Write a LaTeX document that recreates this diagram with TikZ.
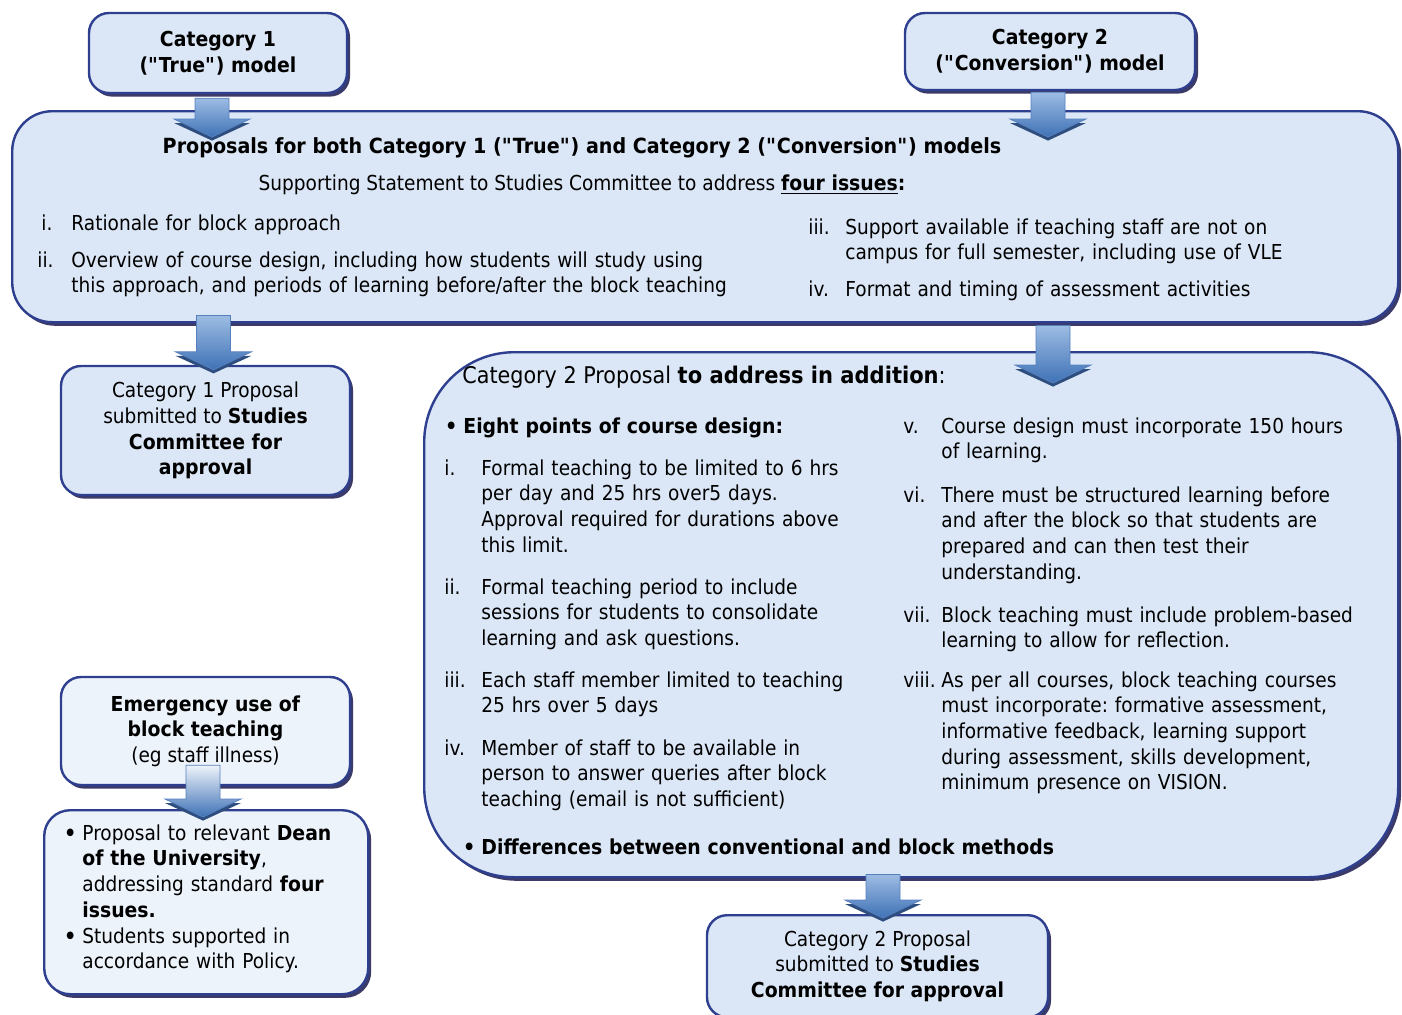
\documentclass[tikz,border=0pt]{standalone}
\usepackage{fontspec}
\setmainfont{DejaVu Sans}[FakeStretch=0.9,BoldFeatures={FakeStretch=0.915}]
\usetikzlibrary{positioning,calc,shadows}
\definecolor{navy}{HTML}{2E3F8F}
\definecolor{shd}{HTML}{3B3A68}
\definecolor{boxf}{HTML}{DBE7F6}
\definecolor{boxl}{HTML}{EDF3FB}
\definecolor{arrt}{HTML}{9DBCE3}
\definecolor{arrb}{HTML}{3F72B6}
\definecolor{arrl}{HTML}{EEF3FA}
\definecolor{arre}{HTML}{5580BE}
\definecolor{arrs}{HTML}{2F4E80}
\AtBeginDocument{\fontsize{10.3}{12.85}\selectfont\frenchspacing}
\newcommand{\qt}{\textquotedbl}
\newcommand{\bul}{{\fontsize{13}{13}\selectfont\raisebox{-1.4pt}{•}}}
\tikzset{
  box/.style={draw=navy,line width=1.2pt,fill=boxf,rounded corners=10pt,inner sep=0pt,align=center,
              drop shadow={shadow xshift=1.5pt,shadow yshift=-1.8pt,fill=shd,opacity=1}},
  lbox/.style={box,fill=boxl},
  bigbox/.style={box,anchor=north west},
  hd/.style={font=\bfseries},
  lbl/.style={inner sep=0pt,anchor=base west},
  itm/.style={lbl,align=left,text width=#1},
  itm/.default=220pt,
  arr/.style={top color=arrt,bottom color=arrb,draw=arre,line width=.4pt},
  larr/.style={arr,top color=arrl}
}
\newcommand{\blockarrow}[3][arr]{%
  \fill[arrs] let \p1=#2, \p2=#3 in
    (\x1-19pt,\y2+7pt) -- (\x1,\y2-1.8pt) -- (\x1+19pt,\y2+7pt) -- cycle;
  \shade[#1] let \p1=#2, \p2=#3 in
    (\x1-8.5pt,\y1) -- (\x1-8.5pt,\y2+9pt) -- (\x1-19pt,\y2+9pt) -- (\x1,\y2)
    -- (\x1+19pt,\y2+9pt) -- (\x1+8.5pt,\y2+9pt) -- (\x1+8.5pt,\y1) -- cycle;}

\begin{document}
\begin{tikzpicture}[x=0.5pt,y=-0.5pt]
\useasboundingbox (0,0) rectangle (1402,1014);
% model boxes
\node[box,hd,minimum width=129pt,minimum height=40pt] (m1) at (218,53) {Category 1\\(\qt True\qt) model};
\node[box,hd,minimum width=145pt,minimum height=38.5pt] (m2) at (1050,51.5) {Category 2\\(\qt Conversion\qt) model};

% proposals for both categories
\node[bigbox,rounded corners=20pt,minimum width=693pt,minimum height=105.5pt] (both) at (11,110) {};
\node[font=\fontsize{10.45}{12.85}\selectfont\bfseries,anchor=base] (bothttl) at (582,153) {Proposals for both Category 1 (\qt True\qt) and Category 2 (\qt Conversion\qt) models};
\node[anchor=base] (bothsub) at (582,190) {Supporting Statement to Studies Committee to address \underline{\textbf{four issues}}\textbf{:}};
\node[lbl] (l1) at (41,230) {i.};
\node[itm=340pt] (t1) at (71,230) {Rationale for block approach};
\node[lbl] (l2) at (37,267) {ii.};
\node[itm=340pt] (t2) at (71,267) {Overview of course design, including how students will study using\\
  this approach, and periods of learning before/after the block teaching};
\node[lbl] (l3) at (808,234) {iii.};
\node[itm=260pt] (t3) at (845,234) {Support available if teaching staff are not on\\
  campus for full semester, including use of VLE};
\node[lbl] (l4) at (808,296) {iv.};
\node[itm=260pt] (t4) at (845,296) {Format and timing of assessment activities};

% category 1 outcome
\node[box,minimum width=144.5pt,minimum height=64.5pt] (sub1) at (205.5,430.5) {Category 1 Proposal\\
  submitted to \textbf{Studies}\\\textbf{Committee for}\\\textbf{approval}};

% category 2 additions
\node[bigbox,rounded corners=45pt,minimum width=487pt,minimum height=262.5pt] (extra) at (423,351) {};
\node[lbl] (extrattl) at (462,383) {\fontsize{11.5}{13}\selectfont Category 2 Proposal \textbf{to address in addition}:};
\node[lbl] (b1) at (444,433) {\bul};
\node[itm] (eight) at (463,433) {\textbf{Eight points of course design:}};
\node[lbl] (li) at (444,475) {i.};
\node[itm] (ti) at (481,475) {Formal teaching to be limited to 6 hrs\\per day and 25 hrs over5 days.\\
  Approval required for durations above\\this limit.};
\node[lbl] (lii) at (444,594) {ii.};
\node[itm] (tii) at (481,594) {Formal teaching period to include\\sessions for students to consolidate\\
  learning and ask questions.};
\node[lbl] (liii) at (444,687) {iii.};
\node[itm] (tiii) at (481,687) {Each staff member limited to teaching\\25 hrs over 5 days};
\node[lbl] (liv) at (444,755) {iv.};
\node[itm] (tiv) at (481,755) {Member of staff to be available in\\person to answer queries after block\\
  teaching (email is not sufficient)};
\node[lbl] (lv) at (903,433) {v.};
\node[itm] (tv) at (941,433) {Course design must incorporate 150 hours\\of learning.};
\node[lbl] (lvi) at (903,502) {vi.};
\node[itm] (tvi) at (941,502) {There must be structured learning before\\and after the block so that students are\\
  prepared and can then test their\\understanding.};
\node[lbl] (lvii) at (903,622) {vii.};
\node[itm] (tvii) at (941,622) {Block teaching must include problem-based\\learning to allow for reflection.};
\node[lbl] (lviii) at (903,687) {viii.};
\node[itm] (tviii) at (941,687) {As per all courses, block teaching courses\\must incorporate: formative assessment,\\
  informative feedback, learning support\\during assessment, skills development,\\minimum presence on VISION.};
\node[lbl] (b2) at (462,854) {\bul};
\node[itm=300pt] (diff) at (481,854) {\textbf{Differences between conventional and block methods}};

% category 2 outcome
\node[box,anchor=north,minimum width=170.5pt,minimum height=51pt] (sub2) at (877.5,914) {Category 2 Proposal\\
  submitted to \textbf{Studies}\\\textbf{Committee for approval}};

% emergency route
\node[lbox,minimum width=144.5pt,minimum height=54pt] (emerg) at (205.5,731) {\textbf{Emergency use of}\\
  \textbf{block teaching}\\(eg staff illness)};
\node[lbox,anchor=north west,rounded corners=13pt,minimum width=162pt,minimum height=92pt] (dean) at (43,809) {};
\node[lbl] (b3) at (63,840) {\bul};
\node[itm=150pt] (td1) at (82,840) {Proposal to relevant \textbf{Dean}\\\textbf{of the University},\\
  addressing standard \textbf{four}\\\textbf{issues.}};
\node[lbl] (b4) at (63,943) {\bul};
\node[itm=150pt] (td2) at (82,943) {Students supported in\\accordance with Policy.};

% arrows
\blockarrow{($(m1.south)+(-6,4)$)}{($(both.north)+(0,27)$)}
\blockarrow{($(m2.south)+(-2,1)$)}{($(both.north)+(0,27)$)}
\blockarrow{($(both.south -| sub1.north)+(8,-8)$)}{($(sub1.north)+(0,5)$)}
\blockarrow{($(both.south -| m2.south)+(3,2)$)}{($(extra.north)+(0,32)$)}
\blockarrow{($(extra.south -| sub2.north)+(5.5,-4)$)}{($(sub2.north)+(0,4)$)}
\blockarrow[larr]{($(emerg.south)+(-2.5,-21)$)}{($(dean.north)+(0,8)$)}
\end{tikzpicture}
\end{document}
